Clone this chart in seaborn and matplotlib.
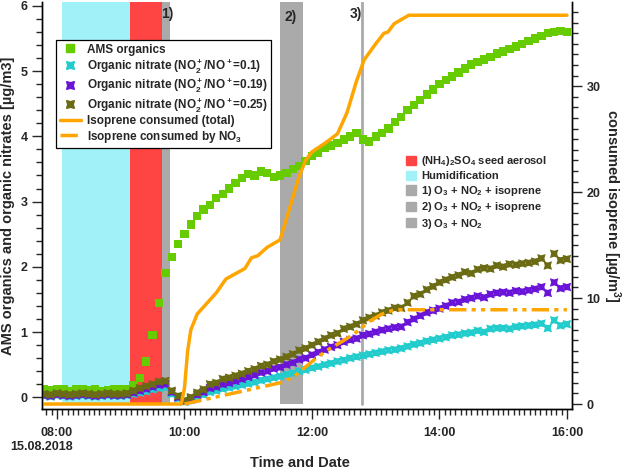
import numpy as np
import matplotlib
matplotlib.use("Agg")
import matplotlib.pyplot as plt
import seaborn as sns
from matplotlib.patches import Patch
from matplotlib.lines import Line2D
from matplotlib.ticker import MultipleLocator, FuncFormatter

# sample times in hours (one point every 6 min, 07:48 - 16:00)
t = np.round(np.arange(7.8, 16.001, 0.1), 1)

ams_org = [0.12, 0.11, 0.13, 0.12, 0.10, 0.12, 0.13, 0.11, 0.12, 0.10, 0.11, 0.12, 0.13, 0.12,
           0.18, 0.30, 0.55, 0.95, 1.45, 1.90, 2.15, 2.35, 2.50, 2.65, 2.78, 2.88, 2.95, 3.05,
           3.12, 3.20, 3.28, 3.36, 3.42, 3.40, 3.46, 3.44, 3.38, 3.40, 3.44, 3.50, 3.55, 3.62,
           3.70, 3.75, 3.82, 3.86, 3.90, 3.95, 4.00, 4.05, 3.95, 3.92, 4.00, 4.05, 4.12, 4.22,
           4.30, 4.40, 4.48, 4.56, 4.64, 4.72, 4.80, 4.86, 4.92, 4.98, 5.04, 5.10, 5.14, 5.18,
           5.22, 5.27, 5.30, 5.34, 5.38, 5.42, 5.46, 5.50, 5.54, 5.58, 5.60, 5.62, 5.60]

on_010 = [0.02, 0.01, 0.03, 0.02, 0.01, 0.02, 0.03, 0.02, 0.01, 0.02, 0.03, 0.02, 0.02, 0.03,
          0.05, 0.07, 0.09, 0.12, 0.14, 0.15, 0.05, -0.02, -0.07, -0.04, 0.01, 0.04, 0.08, 0.10,
          0.13, 0.15, 0.17, 0.19, 0.21, 0.23, 0.26, 0.28, 0.30, 0.32, 0.35, 0.37, 0.40, 0.42,
          0.45, 0.47, 0.50, 0.52, 0.55, 0.57, 0.60, 0.62, 0.64, 0.66, 0.68, 0.70, 0.72, 0.73,
          0.75, 0.78, 0.81, 0.83, 0.86, 0.88, 0.90, 0.92, 0.95, 0.96, 0.98, 0.99, 1.02, 1.00,
          1.05, 1.06, 1.06, 1.05, 1.08, 1.09, 1.10, 1.11, 1.13, 1.06, 1.18, 1.10, 1.12]

on_019 = [0.03, 0.02, 0.04, 0.03, 0.02, 0.03, 0.04, 0.03, 0.02, 0.03, 0.04, 0.03, 0.03, 0.04,
          0.07, 0.10, 0.13, 0.16, 0.19, 0.20, 0.08, 0.00, -0.06, -0.02, 0.04, 0.08, 0.14, 0.16,
          0.20, 0.22, 0.25, 0.28, 0.31, 0.34, 0.38, 0.40, 0.44, 0.46, 0.50, 0.53, 0.58, 0.60,
          0.65, 0.69, 0.73, 0.77, 0.80, 0.85, 0.88, 0.90, 0.95, 0.97, 1.00, 1.03, 1.05, 1.07,
          1.08, 1.15, 1.20, 1.25, 1.30, 1.33, 1.36, 1.40, 1.45, 1.46, 1.50, 1.52, 1.55, 1.53,
          1.58, 1.60, 1.61, 1.60, 1.63, 1.62, 1.64, 1.66, 1.69, 1.60, 1.76, 1.67, 1.69]

on_025 = [0.05, 0.04, 0.06, 0.05, 0.04, 0.05, 0.06, 0.05, 0.04, 0.05, 0.06, 0.05, 0.05, 0.06,
          0.10, 0.14, 0.17, 0.20, 0.24, 0.25, 0.10, 0.02, -0.05, 0.00, 0.07, 0.12, 0.20, 0.22,
          0.28, 0.30, 0.33, 0.36, 0.40, 0.43, 0.48, 0.50, 0.55, 0.58, 0.62, 0.66, 0.72, 0.75,
          0.80, 0.85, 0.90, 0.95, 0.98, 1.05, 1.08, 1.12, 1.18, 1.22, 1.25, 1.30, 1.33, 1.37,
          1.37, 1.45, 1.55, 1.58, 1.65, 1.70, 1.76, 1.80, 1.84, 1.87, 1.92, 1.90, 1.96, 1.98,
          1.97, 2.02, 2.00, 2.04, 2.03, 2.05, 2.06, 2.08, 2.13, 2.02, 2.20, 2.10, 2.12]

# consumed isoprene (right axis)
iso_t = [7.8, 9.95, 10.0, 10.05, 10.1, 10.2, 10.35, 10.5, 10.65, 10.8, 10.95, 11.05, 11.15,
         11.3, 11.5, 11.6, 11.7, 11.8, 11.9, 12.0, 12.2, 12.4, 12.55, 12.7, 12.82, 13.0, 13.13,
         13.19, 13.29, 13.52, 16.0]
iso_total = [0, 0, 1.5, 5.0, 7.0, 8.5, 9.5, 10.5, 11.8, 12.3, 12.8, 13.8, 14.0, 14.8, 15.5,
             17.5, 19.5, 21.5, 23.0, 23.8, 24.6, 25.5, 27.5, 30.5, 32.5, 34.0, 35.0, 35.1,
             35.9, 36.7, 36.7]
no3_t = [10.0, 10.3, 10.6, 10.9, 11.2, 11.5, 11.7, 11.9, 12.1, 12.3, 12.5, 12.7, 12.9, 13.1,
         13.3, 16.0]
iso_no3 = [0.0, 0.4, 0.8, 1.2, 1.6, 2.0, 2.5, 3.5, 4.5, 5.3, 6.0, 6.8, 7.8, 8.5, 8.9, 8.9]

# experiment phases
humid = (8.08, 9.15)
seed = (9.15, 9.65)
phase1 = (9.65, 9.77)
phase2 = (11.50, 11.86)
phase3 = 12.78

sns.set_style("ticks")
plt.rcParams['font.family'] = ['Liberation Sans', 'DejaVu Sans']
plt.rcParams['font.weight'] = 'bold'
plt.rcParams['mathtext.fontset'] = 'custom'
plt.rcParams['mathtext.rm'] = 'Liberation Sans:bold'
plt.rcParams['mathtext.it'] = 'Liberation Sans:bold'
plt.rcParams['mathtext.bf'] = 'Liberation Sans:bold'
plt.rcParams['mathtext.default'] = 'rm'

c_green = '#66cc00'
c_cyan = '#22cccc'
c_purple = '#6a14d8'
c_olive = '#6b6b14'
c_orange = '#ffa500'
c_cyanband = '#a0f2f8'
c_red = '#ff4444'
c_gray = '#aaaaaa'

fig = plt.figure(figsize=(6.25, 4.73), dpi=100)
ax = fig.add_axes([0.0672, 0.1353, 0.848, 0.8605])
ax2 = ax.twinx()

yb = 0.012
ax.axvspan(*humid, ymin=yb, color=c_cyanband, lw=0, zorder=0)
ax.axvspan(*seed, ymin=yb, color=c_red, lw=0, zorder=0)
ax.axvspan(*phase1, ymin=yb, color=c_gray, lw=0, zorder=0)
ax.axvspan(*phase2, ymin=yb, color=c_gray, lw=0, zorder=0)
ax.axvline(phase3, ymin=yb, color=c_gray, lw=2, zorder=0)

star = (4, 1, 45)
sns.scatterplot(x=t, y=ams_org, marker='s', color=c_green, s=36, edgecolor='none', ax=ax, zorder=2)
sns.scatterplot(x=t, y=on_010, marker=star, color=c_cyan, s=75, edgecolor='none', ax=ax, zorder=3)
sns.scatterplot(x=t, y=on_019, marker=star, color=c_purple, s=75, edgecolor='none', ax=ax, zorder=3)
sns.scatterplot(x=t, y=on_025, marker=star, color=c_olive, s=75, edgecolor='none', ax=ax, zorder=3)

dashdotdot = (0, (5, 1.5, 1.2, 1.5, 1.2, 1.5))
sns.lineplot(x=iso_t, y=iso_total, color=c_orange, lw=2.5, ax=ax2)
sns.lineplot(x=no3_t, y=iso_no3, color=c_orange, lw=2.5, linestyle=dashdotdot, ax=ax2)

ax.set_xlim(7.765, 16.08)
ax.set_ylim(-0.18, 6.06)
ax2.set_ylim(-0.47, 37.95)

ax.xaxis.set_major_locator(MultipleLocator(2))
ax.xaxis.set_minor_locator(MultipleLocator(5 / 60))
ax.xaxis.set_major_formatter(FuncFormatter(lambda v, p: f"{int(round(v)):02d}:00"))
ax.yaxis.set_major_locator(MultipleLocator(1))
ax.yaxis.set_minor_locator(MultipleLocator(0.2))
ax2.yaxis.set_major_locator(MultipleLocator(10))
ax2.yaxis.set_minor_locator(MultipleLocator(1))

for a in (ax, ax2):
    a.tick_params(which='major', direction='out', length=7, width=1, labelsize=9)
    a.tick_params(which='minor', direction='out', length=4, width=1)
    a.spines['top'].set_visible(False)
    for s in a.spines.values():
        s.set_linewidth(1)
        s.set_color('black')
ax.tick_params(axis='x', pad=6)
ax.set_xlabel('')
ax.set_ylabel('AMS organics and organic nitrates [µg/m3]', fontsize=10.5, fontweight='bold', labelpad=4)
ax2.set_ylabel('consumed isoprene [µg/m$^3$]', fontsize=10.5, fontweight='bold', rotation=270, labelpad=16)
fig.text(300 / 625, 1 - 463 / 473, 'Time and Date', ha='center', va='center', fontsize=10.5, fontweight='bold')
fig.text(42 / 625, 1 - 447 / 473, '15.08.2018', ha='center', va='center', fontsize=9, fontweight='bold')

for x, y, s in [(9.73, 12, '1)'), (11.66, 15, '2)'), (12.69, 12, '3)')]:
    ax.text(x, 6.06 - y / 65.2, s, ha='center', va='center', fontsize=10, fontweight='bold')

h1 = [
    Line2D([], [], marker='s', color=c_green, ls='none', markersize=6),
    Line2D([], [], marker=star, color=c_cyan, ls='none', markersize=8),
    Line2D([], [], marker=star, color=c_purple, ls='none', markersize=8),
    Line2D([], [], marker=star, color=c_olive, ls='none', markersize=8),
    Line2D([], [], color=c_orange, lw=2.5),
    Line2D([], [], color=c_orange, lw=2.5, ls=dashdotdot),
]
l1 = ['AMS organics',
      'Organic nitrate (NO$_2^+$/NO$^+$=0.1)',
      'Organic nitrate (NO$_2^+$/NO$^+$=0.19)',
      'Organic nitrate (NO$_2^+$/NO$^+$=0.25)',
      'Isoprene consumed (total)',
      'Isoprene consumed by NO$_3$']
leg1 = ax2.legend(h1, l1, loc='upper left', bbox_to_anchor=(56 / 625, 1 - 40 / 473),
                  bbox_transform=fig.transFigure, borderaxespad=0, frameon=True, fancybox=False,
                  edgecolor='black', framealpha=1, prop={'size': 8.5, 'weight': 'bold'},
                  handlelength=1.8, handletextpad=0.5, labelspacing=0.12, borderpad=0.3)
leg1.get_frame().set_linewidth(0.9)
ax2.add_artist(leg1)

h2 = [Patch(color=c_red), Patch(color=c_cyanband), Patch(color=c_gray), Patch(color=c_gray),
      Patch(color=c_gray)]
l2 = ['(NH$_4$)$_2$SO$_4$ seed aerosol', 'Humidification', '1) O$_3$ + NO$_2$ + isoprene',
      '2) O$_3$ + NO$_2$ + isoprene', '3) O$_3$ + NO$_2$']
ax2.legend(h2, l2, loc='upper left', bbox_to_anchor=(402 / 625, 1 - 150 / 473),
           bbox_transform=fig.transFigure, borderaxespad=0, frameon=False,
           prop={'size': 8, 'weight': 'bold'}, handlelength=0.9, handleheight=0.9,
           handletextpad=0.4, labelspacing=0.22)

fig.savefig('out.png', dpi=100)
